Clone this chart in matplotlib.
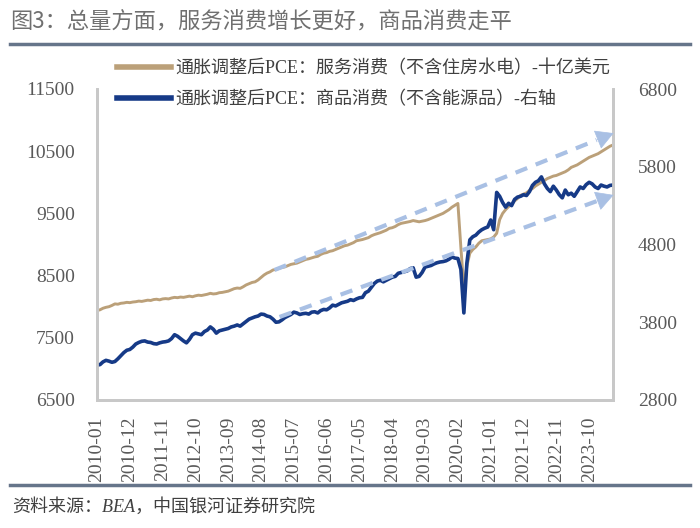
import matplotlib.pyplot as plt
import pandas as pd
from matplotlib.lines import Line2D

plt.rcParams['font.family'] = ['Liberation Serif', 'Noto Sans CJK SC']

# Data (monthly, 2010-01 .. 2024-06)
services = [
    7940, 7950, 7975, 7990, 8000, 8020, 8045, 8040, 8055, 8060, 8070, 8065,
    8075, 8080, 8090, 8085, 8095, 8105, 8100, 8115, 8120, 8110, 8125, 8130,
    8125, 8140, 8150, 8145, 8155, 8150, 8160, 8170, 8160, 8175, 8185, 8180,
    8190, 8200, 8215, 8205, 8210, 8225, 8230, 8240, 8250, 8270, 8290, 8300,
    8295, 8320, 8350, 8370, 8390, 8400, 8430, 8470, 8510, 8540, 8560, 8590,
    8600, 8615, 8630, 8640, 8660, 8680, 8690, 8700, 8720, 8740, 8760, 8770,
    8785, 8800, 8810, 8840, 8860, 8870, 8890, 8900, 8920, 8940, 8960, 8980,
    8990, 9010, 9030, 9060, 9070, 9080, 9095, 9110, 9140, 9160, 9175, 9190,
    9210, 9230, 9260, 9270, 9290, 9320, 9340, 9350, 9360, 9370, 9385, 9375,
    9365, 9375, 9385, 9400, 9420, 9440, 9460, 9480, 9500, 9530, 9560, 9600,
    9630, 9660, 8950, 8300, 8650, 8860, 8920, 8960, 9020, 9060, 9070, 9080,
    9090, 9120, 9180, 9400, 9500, 9560, 9610, 9650, 9700, 9740, 9790, 9810,
    9830, 9870, 9900, 9940, 9970, 10000, 10030, 10060, 10080, 10100, 10110, 10130,
    10150, 10170, 10200, 10240, 10260, 10280, 10310, 10340, 10370, 10400, 10420, 10440,
    10460, 10490, 10520, 10550, 10580, 10600,
]
goods = [
    3250, 3255, 3290, 3310, 3300, 3285, 3295, 3330, 3370, 3410, 3440, 3450,
    3480, 3520, 3540, 3555, 3560, 3545, 3540, 3525, 3520, 3535, 3545, 3550,
    3560, 3590, 3640, 3620, 3590, 3560, 3535, 3580, 3640, 3660, 3650, 3640,
    3680, 3700, 3740, 3710, 3660, 3690, 3700, 3710, 3720, 3740, 3750, 3765,
    3750, 3780, 3810, 3840, 3855, 3870, 3880, 3905, 3900, 3880, 3870, 3840,
    3800, 3805, 3830, 3860, 3880, 3900, 3930, 3920, 3900, 3910, 3915, 3905,
    3930, 3935, 3920, 3950, 3965, 3960, 3985, 4020, 4010, 4030, 4050, 4060,
    4070, 4090, 4080, 4100, 4115, 4120, 4180, 4200, 4250, 4300, 4330, 4340,
    4320, 4340, 4360, 4380, 4390, 4430, 4440, 4450, 4460, 4490, 4500, 4380,
    4390, 4440, 4510, 4520, 4530, 4550, 4565, 4575, 4580, 4590, 4610, 4640,
    4625, 4620, 4480, 3920, 4560, 4860, 4900, 4920, 4960, 4990, 5010, 5025,
    5115, 4990, 5470, 5420, 5340, 5280, 5330, 5300, 5380, 5410, 5420, 5440,
    5430, 5480, 5560, 5600, 5620, 5670, 5580, 5520, 5480, 5550, 5500, 5440,
    5400, 5500, 5440, 5460, 5420, 5480, 5540, 5520, 5570, 5600, 5580, 5540,
    5520, 5565, 5550, 5540, 5560, 5565,
]
months = pd.date_range('2010-01', periods=len(services), freq='MS').strftime('%Y-%m').tolist()

# trend arrows: (start, end) -- upper one on left axis, lower one on right axis
upper_arrow = [(59.5, 8590), (173.2, 10790)]
lower_arrow = [(61.2, 3868), (173.2, 5437)]

label_services = '通胀调整后PCE：服务消费（不含住房水电）-十亿美元'
label_goods = '通胀调整后PCE：商品消费（不含能源品）-右轴'

tan = '#bba079'
navy = '#163a87'
dash_col = '#a9c0e4'
grey = '#595959'

fig = plt.figure(figsize=(7, 5.28), dpi=100)
ax = fig.add_axes([97 / 700, 1 - 400 / 528, 516 / 700, 311 / 528])
ax2 = ax.twinx()

x = list(range(len(services)))
ax.plot(x, services, color=tan, lw=2.1)
ax2.plot(x, goods, color=navy, lw=2.6)

ax.set_xlim(0, len(services) - 1)
ax.set_ylim(6500, 11500)
ax.set_yticks([6500, 7500, 8500, 9500, 10500, 11500])
ax2.set_ylim(2800, 6800)
ax2.set_yticks([2800, 3800, 4800, 5800, 6800])

ax.set_xticks(x[::11])
ax.set_xticklabels(months[::11], rotation=90)

for a in (ax, ax2):
    a.tick_params(length=0, labelsize=14, labelcolor=grey)
    for s in a.spines.values():
        s.set_color('#c8c8c8')
        s.set_linewidth(2)
    a.spines['top'].set_visible(False)
ax.tick_params(axis='y', pad=16)
ax.tick_params(axis='x', pad=12)
ax2.tick_params(axis='y', pad=18)

# dashed trend arrows, drawn on top
for (p0, p1), tr in ((upper_arrow, ax.transData), (lower_arrow, ax2.transData)):
    f = 0.95
    mid = (p0[0] + (p1[0] - p0[0]) * f, p0[1] + (p1[1] - p0[1]) * f)
    ax2.plot([p0[0], mid[0]], [p0[1], mid[1]], transform=tr, color=dash_col,
             lw=3, dashes=(3, 2.2), clip_on=False, zorder=5)
    ax2.annotate('', xy=p1, xytext=mid, xycoords=tr, textcoords=tr,
                 arrowprops=dict(arrowstyle='-|>,head_length=0.9,head_width=0.5',
                                 color=dash_col, lw=0.5, mutation_scale=13,
                                 shrinkA=0, shrinkB=0), zorder=6)

handles = [Line2D([], [], color=tan, lw=4), Line2D([], [], color=navy, lw=4)]
fig.legend(handles, [label_services, label_goods], loc='center left',
           bbox_to_anchor=(108 / 700, 1 - 84 / 528), frameon=False, fontsize=13,
           handlelength=3.0, handletextpad=0.25, labelspacing=0.75, borderpad=0,
           labelcolor='#404040')

fig.text(0.015, 1 - 22 / 528, '图3：总量方面，服务消费增长更好，商品消费走平',
         fontsize=16, color='#707070', va='center', family=['Noto Sans CJK SC'])
fig.add_artist(Line2D([0.014, 0.986], [1 - 44 / 528] * 2, color='#66758a', lw=2.5))
fig.add_artist(Line2D([0.014, 0.986], [1 - 485 / 528] * 2, color='#66758a', lw=2.5))
fig.text(0.018, 1 - 507 / 528, '资料来源：BEA，中国银河证券研究院', fontsize=13,
         color='#404040', va='center', style='italic')

fig.savefig('out.png', dpi=100)
